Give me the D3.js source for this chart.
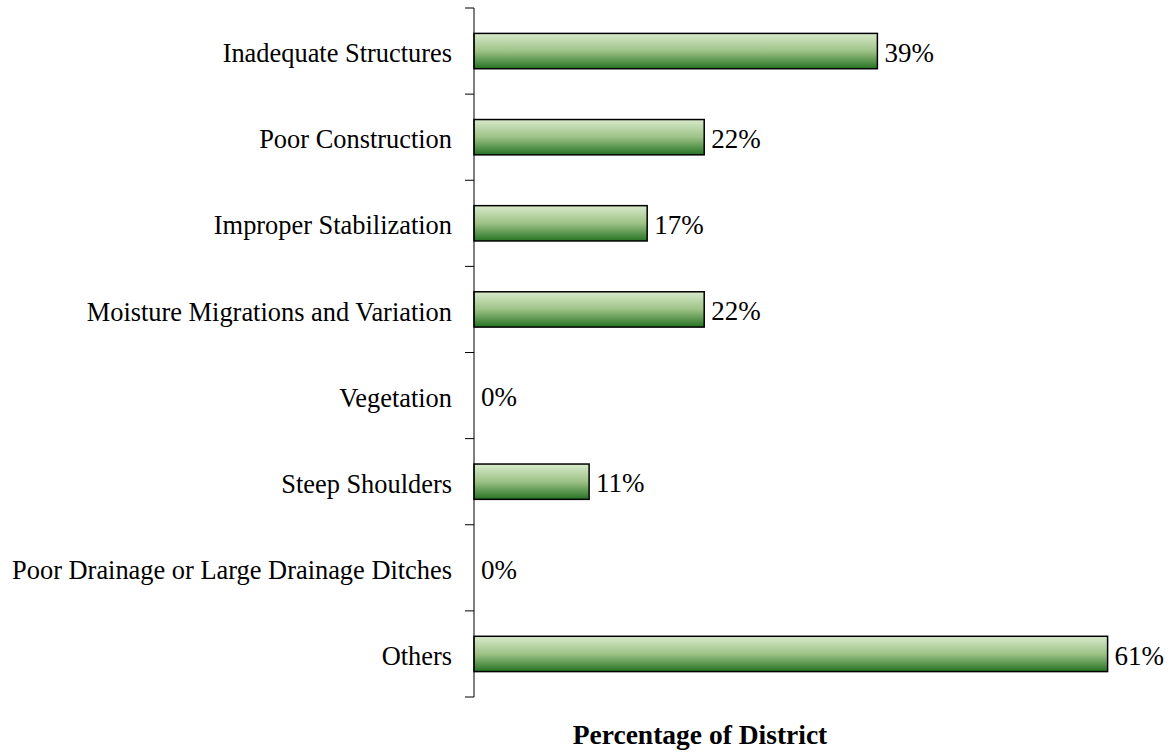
<!DOCTYPE html>
<html>
<head>
<meta charset="utf-8">
<script src="https://cdn.jsdelivr.net/npm/d3@7"></script>
<style>
  body { margin: 0; background: #fff; }
  text { font-family: "Liberation Serif", "Times New Roman", serif; fill: #000; }
</style>
</head>
<body>
<script>
// categories, top to bottom
const categories = ["Inadequate Structures", "Poor Construction", "Improper Stabilization",
  "Moisture Migrations and Variation", "Vegetation", "Steep Shoulders",
  "Poor Drainage or Large Drainage Ditches", "Others"];
// share of districts (fraction)
const values = [0.389, 0.222, 0.167, 0.222, 0, 0.111, 0, 0.611];
const valueLabels = ["39%", "22%", "17%", "22%", "0%", "11%", "0%", "61%"];
const axisTitle = "Percentage of District";

const w = 1174, h = 752;
const margin = {top: 8, left: 474, bottom: 55};

const svg = d3.select("body").append("svg")
  .attr("width", w).attr("height", h);

const grad = svg.append("defs").append("linearGradient")
  .attr("id", "barGrad").attr("x1", 0).attr("y1", 0).attr("x2", 0).attr("y2", 1);
grad.append("stop").attr("offset", "0%").attr("stop-color", "#d8eacb");
grad.append("stop").attr("offset", "50%").attr("stop-color", "#9dc286");
grad.append("stop").attr("offset", "100%").attr("stop-color", "#257323");

const y = d3.scaleBand().domain(categories)
  .range([margin.top, h - margin.bottom]).paddingInner(0.59).paddingOuter(0.295);
const x = d3.scaleLinear().domain([0, 1]).range([margin.left, margin.left + 1037]);

// bars
svg.selectAll("rect.bar").data(categories).enter().append("rect")
  .attr("class", "bar")
  .attr("x", x(0))
  .attr("y", d => y(d))
  .attr("width", (d, i) => x(values[i]) - x(0))
  .attr("height", y.bandwidth())
  .attr("fill", "url(#barGrad)")
  .attr("stroke", "#000").attr("stroke-width", 1.5)
  .style("display", (d, i) => values[i] > 0 ? null : "none");

// value labels
svg.selectAll("text.val").data(categories).enter().append("text")
  .attr("class", "val")
  .attr("x", (d, i) => x(values[i]) + 7)
  .attr("y", d => y(d) + y.bandwidth() / 2)
  .attr("dy", "0.4em")
  .style("font-size", "27px")
  .text((d, i) => valueLabels[i]);

// category axis
const yAxis = d3.axisLeft(y).tickSize(0).tickPadding(22);
const gy = svg.append("g").attr("transform", `translate(${margin.left},0)`).call(yAxis);
gy.select(".domain").remove();
gy.selectAll("text").style("font-size", "26.4px").attr("dy", "0.42em");

// axis line and boundary ticks
const step = y.step();
const edges = d3.range(categories.length + 1).map(i => margin.top + i * step);
svg.append("line").attr("x1", margin.left).attr("x2", margin.left)
  .attr("y1", edges[0]).attr("y2", edges[edges.length - 1])
  .attr("stroke", "#000").attr("stroke-width", 1);
svg.selectAll("line.tk").data(edges).enter().append("line")
  .attr("class", "tk")
  .attr("x1", margin.left - 9).attr("x2", margin.left)
  .attr("y1", d => d).attr("y2", d => d)
  .attr("stroke", "#000").attr("stroke-width", 1);

svg.append("text")
  .attr("x", 700).attr("y", 744)
  .attr("text-anchor", "middle")
  .style("font-size", "27.5px").style("font-weight", "bold")
  .text(axisTitle);
</script>
</body>
</html>
